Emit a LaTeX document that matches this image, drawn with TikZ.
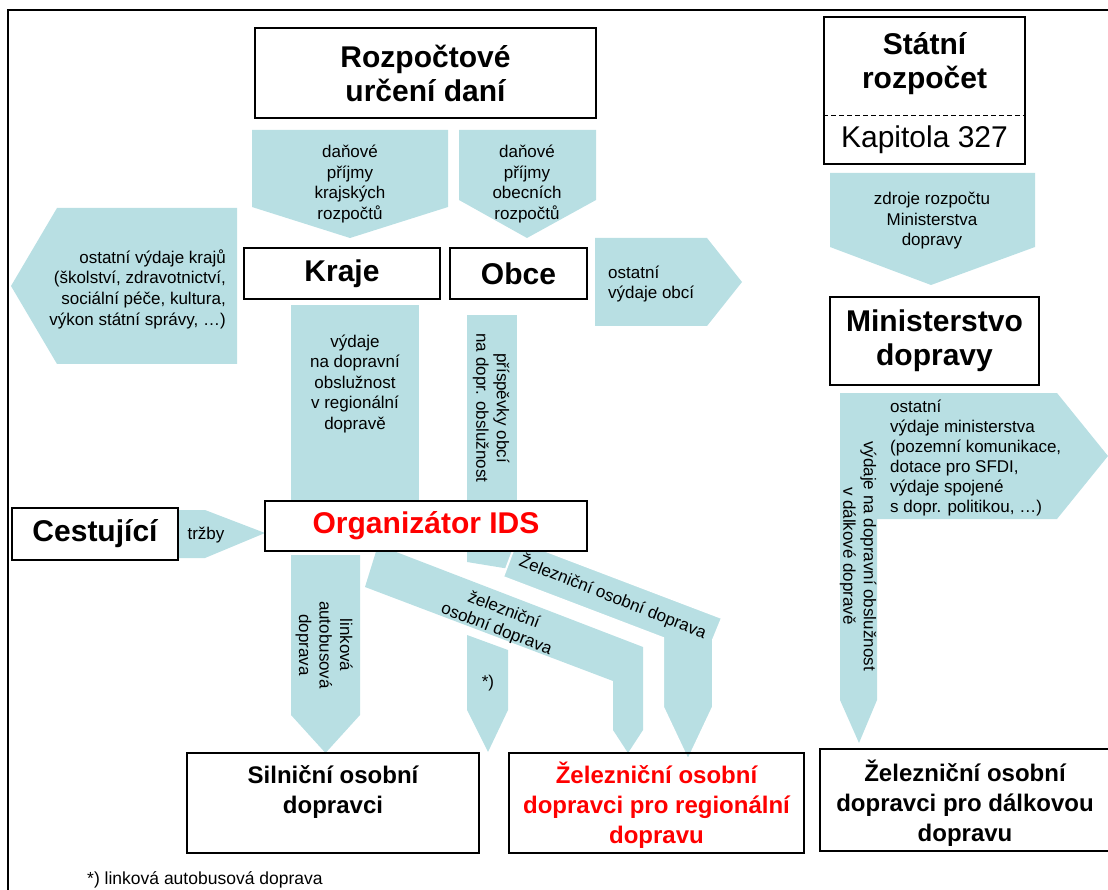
\documentclass[tikz,border=0pt]{standalone}
\usepackage{fontspec}
\setmainfont{Liberation Sans}
\definecolor{flow}{RGB}{184,223,227}
\definecolor{idsred}{RGB}{255,0,0}
\begin{document}
\begin{tikzpicture}[x=1pt,y=-1pt,
  box/.style={draw=black,line width=1.4pt,fill=white,inner sep=0pt},
  openbox/.style={draw=black,line width=1.4pt,inner sep=0pt},
  big/.style={font=\fontsize{30}{34}\selectfont\bfseries,align=center},
  bigreg/.style={font=\fontsize{30}{34}\selectfont,align=center},
  small/.style={font=\fontsize{17}{20.5}\selectfont,align=center,inner sep=0pt},
  leftsmall/.style={font=\fontsize{17}{20}\selectfont,align=left,inner sep=0pt},
  rightsmall/.style={font=\fontsize{17}{20.7}\selectfont,align=right,inner sep=0pt},
  lower/.style={font=\fontsize{24}{30}\selectfont\bfseries,align=center,inner sep=0pt},
  flowfill/.style={fill=flow}]
\useasboundingbox (0,0) rectangle (1108,890);

% outer frame (left and top edges)
\draw[line width=2.5pt] (8,890) -- (8,10) -- (1108,10);

% ---------- flows from the tax allocation ----------
\fill[flowfill] (252,130) -- (448,130) -- (448,207) -- (350,238) -- (252,207) -- cycle;
\fill[flowfill] (459,130) -- (596,130) -- (596,200) -- (527,238) -- (459,200) -- cycle;
\node[small] (dk) at (350,184) {daňové\\příjmy\\krajských\\rozpočtů};
\node[small] (do) at (527,184) {daňové\\příjmy\\obecních\\rozpočtů};

% other regional expenditure (pointing left)
\fill[flowfill] (237,208) -- (237,364) -- (57,364) -- (11,286) -- (57,208) -- cycle;
\node[rightsmall,anchor=east] (okr) at (226,289) {ostatní výdaje krajů\\(školství, zdravotnictví,\\sociální péče, kultura,\\výkon státní správy, …)};

% other municipal expenditure (pointing right)
\fill[flowfill] (595,238) -- (707,238) -- (742,282) -- (707,326) -- (595,326) -- cycle;
\node[leftsmall,anchor=west] (oob) at (608,284) {ostatní\\výdaje obcí};

% regional service expenditure and municipal contributions
\fill[flowfill] (291,305) rectangle (419,510);
\node[small] (vdo) at (355,384) {výdaje\\na dopravní\\obslužnost\\v regionální\\dopravě};
\fill[flowfill] (467,315) rectangle (517,510);
\node[small,rotate=-90] (pri) at (491,408) {příspěvky obcí\\na dopr. obslužnost};

% fares from passengers
\fill[flowfill] (178,510) -- (205,510) -- (265,533) -- (205,558) -- (178,558) -- cycle;
\node[small] (trz) at (206,535) {tržby};

% ---------- flows from the IDS organiser ----------
\fill[flowfill] (291,555) -- (360,555) -- (360,715) -- (325.5,753) -- (291,715) -- cycle;
\node[small,rotate=-90] (lin) at (324,645) {linková\\autobusová\\doprava};

\fill[flowfill] (467,545) -- (516,545) -- (516,570) -- (467,562) -- cycle;
\fill[flowfill] (467,635) -- (508,650) -- (508,710) -- (488,752) -- (467,710) -- cycle;
\node[small] (ast) at (488,683) {*)};

% rail band, lower
\fill[flowfill] (378,545) -- (643,647) -- (643,730) -- (628,753) -- (613,730) -- (613,681) -- (365,587) -- cycle;
\node[small,rotate=-21] (zel1) at (500,620) {železniční\\osobní doprava};

% rail band, upper
\draw[flowfill,draw=white,line width=2pt] (517,540) -- (722,618) -- (713,640) -- (713,707) -- (688,760) -- (663,707) -- (663,638) -- (503,577) -- cycle;
\node[small,rotate=-21.5] (zel2) at (613,597) {Železniční osobní doprava};

% ---------- ministry flows ----------
\fill[flowfill] (830,173) -- (1035,173) -- (1035,247) -- (931,285) -- (830,247) -- cycle;
\node[small] (zdr) at (932,221) {zdroje rozpočtu\\Ministerstva\\dopravy};

\fill[flowfill] (840,393) -- (877,393) -- (877,700) -- (859,743) -- (840,700) -- cycle;
\node[small,rotate=-90] (vdd) at (858,556) {výdaje na dopravní obslužnost\\v dálkové dopravě};
\fill[flowfill] (877,393) -- (1057,393) -- (1108,456) -- (1057,519) -- (877,519) -- cycle;
\node[leftsmall,anchor=west] (omi) at (890,458) {ostatní\\výdaje ministerstva\\(pozemní komunikace,\\dotace pro SFDI,\\výdaje spojené\\s dopr. politikou, …)};

% ---------- boxes ----------
\node[box,big,minimum width=341pt,minimum height=90pt] (rud) at (425.5,73) {Rozpočtové\\určení daní};

\node[box,minimum width=201pt,minimum height=147pt] (stat) at (924.5,90.5) {};
\draw[line width=1pt,dash pattern=on 5pt off 3pt] (stat.west |- 0,116) -- (stat.east |- 0,116);
\node[big] (statt) at (924.5,64) {Státní\\rozpočet};
\node[bigreg] (kap) at (924.5,140) {Kapitola 327};

\node[box,big,minimum width=209pt,minimum height=88pt] (min) at (934.5,341) {Ministerstvo\\dopravy};

\node[box,big,minimum width=196pt,minimum height=51pt] (kraje) at (342,273.5) {Kraje};
\node[box,big,minimum width=137pt,minimum height=51pt] (obce) at (518.5,273.5) {Obce};

\node[box,big,minimum width=166pt,minimum height=52pt] (cest) at (95,534) {Cestující};
\node[box,big,text=idsred,minimum width=322pt,minimum height=50pt] (ids) at (426,526) {Organizátor IDS};

% ---------- carriers ----------
\node[openbox,minimum width=292pt,minimum height=100pt] (sil) at (333,803) {};
\node[lower] (silt) at (333,792) {Silniční osobní\\dopravci};
\node[openbox,minimum width=295pt,minimum height=100pt] (reg) at (656.5,803) {};
\node[lower,text=idsred] (regt) at (656.5,805) {Železniční osobní\\dopravci pro regionální\\dopravu};
\begin{scope}
  \clip (0,0) rectangle (1108,890);
  \node[openbox,minimum width=292pt,minimum height=102pt] (dal) at (966,800) {};
\end{scope}
\node[lower] (dalt) at (965,803) {Železniční osobní\\dopravci pro dálkovou\\dopravu};

% footnote
\node[font=\fontsize{17.5}{19}\selectfont,anchor=west,inner sep=0pt] (pozn) at (87,880) {*) linková autobusová doprava};
\end{tikzpicture}
\end{document}
